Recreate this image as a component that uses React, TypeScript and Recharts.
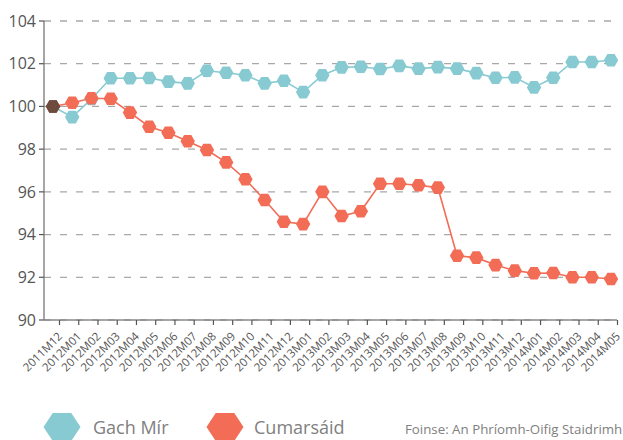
import React from 'react';
import { LineChart, Line, XAxis, YAxis, CartesianGrid } from 'recharts';

const months = [
  '2011M12', '2012M01', '2012M02', '2012M03', '2012M04', '2012M05', '2012M06', '2012M07',
  '2012M08', '2012M09', '2012M10', '2012M11', '2012M12', '2013M01', '2013M02', '2013M03',
  '2013M04', '2013M05', '2013M06', '2013M07', '2013M08', '2013M09', '2013M10', '2013M11',
  '2013M12', '2014M01', '2014M02', '2014M03', '2014M04', '2014M05'
];

const gachMir = [
  100, 99.5, 100.35, 101.32, 101.32, 101.33, 101.16, 101.08, 101.67, 101.58, 101.46, 101.08,
  101.2, 100.67, 101.46, 101.83, 101.86, 101.75, 101.9, 101.77, 101.84, 101.77, 101.56,
  101.34, 101.36, 100.89, 101.34, 102.08, 102.08, 102.16
];

const cumarsaid = [
  100, 100.17, 100.38, 100.36, 99.71, 99.05, 98.77, 98.37, 97.96, 97.38, 96.59, 95.62, 94.6,
  94.49, 96.0, 94.87, 95.09, 96.38, 96.38, 96.31, 96.2, 93.01, 92.92, 92.57, 92.31, 92.19,
  92.2, 92.0, 92.0, 91.92
];

const yTicks = [90, 92, 94, 96, 98, 100, 102, 104];

const BLUE = '#88cad2';
const RED = '#f26c56';
const BROWN = '#6f4b3e';
const FONT = '"Open Sans", sans-serif';

const data = months.map((m, i) => ({ name: m, gach: gachMir[i], cum: cumarsaid[i] }));

const hexPoints = (cx: number, cy: number, r: number, h: number) =>
  [
    [cx - r, cy],
    [cx - r / 2, cy - h],
    [cx + r / 2, cy - h],
    [cx + r, cy],
    [cx + r / 2, cy + h],
    [cx - r / 2, cy + h]
  ]
    .map((p) => p.join(','))
    .join(' ');

const hexDot = (color: string) => (props: any) => {
  const { cx, cy, index } = props;
  if (cx == null || cy == null) return <g key={`d-${index}`} />;
  return (
    <polygon
      key={`d-${index}`}
      points={hexPoints(cx, cy, 7.2, 6.3)}
      fill={index === 0 ? BROWN : color}
    />
  );
};

const MonthTick = (props: any) => {
  const { x, y, payload } = props;
  const ax = x + 10;
  const ay = y + 9;
  return (
    <g>
      <line x1={x + 6.5} y1={y - 8} x2={x + 6.5} y2={y - 3} stroke="#555" strokeWidth={1.2} />
      <text
        x={ax}
        y={ay}
        textAnchor="end"
        fontSize={11.5}
        fill="#555"
        fontFamily={FONT}
        transform={`rotate(-45, ${ax}, ${ay})`}
      >
        {payload.value}
      </text>
    </g>
  );
};

const Hex = ({ color }: { color: string }) => (
  <svg width={38} height={30} style={{ display: 'block' }}>
    <polygon points={hexPoints(19, 15, 18.5, 14)} fill={color} />
  </svg>
);

export default function App() {
  return (
    <div style={{ position: 'relative', width: 623, height: 440, background: '#fff' }}>
      <style>{`body{margin:0}`}</style>
      <LineChart
        width={623}
        height={440}
        data={data}
        margin={{ top: 21, right: 6, left: 0, bottom: 0 }}
      >
        <CartesianGrid
          horizontal
          vertical={false}
          stroke="#a8a8a8"
          strokeDasharray="7 9"
          strokeWidth={1.3}
        />
        <XAxis
          dataKey="name"
          interval={0}
          height={120}
          padding={{ left: 9, right: 6 }}
          tickLine={false}
          axisLine={{ stroke: '#888', strokeWidth: 1.5 }}
          tick={<MonthTick />}
        />
        <YAxis
          width={44}
          domain={[90, 104]}
          ticks={yTicks}
          tickSize={5}
          tickMargin={3}
          tickLine={{ stroke: '#555', strokeWidth: 1.2 }}
          axisLine={{ stroke: '#888', strokeWidth: 1.5 }}
          tick={{ fontSize: 16, fill: '#555', fontFamily: FONT }}
          allowDataOverflow
        />
        <Line
          type="linear"
          dataKey="gach"
          stroke={BLUE}
          strokeWidth={1.6}
          dot={hexDot(BLUE)}
          activeDot={false}
          isAnimationActive={false}
        />
        <Line
          type="linear"
          dataKey="cum"
          stroke={RED}
          strokeWidth={1.6}
          dot={hexDot(RED)}
          activeDot={false}
          isAnimationActive={false}
        />
      </LineChart>
      <div
        style={{
          position: 'absolute',
          left: 43,
          top: 412,
          display: 'flex',
          alignItems: 'center',
          fontFamily: FONT,
          color: '#808080'
        }}
      >
        <Hex color={BLUE} />
        <span style={{ fontSize: 18, marginLeft: 12, width: 113 }}>Gach Mír</span>
        <Hex color={RED} />
        <span style={{ fontSize: 18, marginLeft: 10, width: 151 }}>Cumarsáid</span>
        <span style={{ fontSize: 13.3, marginTop: 4 }}>Foinse: An Phríomh-Oifig Staidrimh</span>
      </div>
    </div>
  );
}
